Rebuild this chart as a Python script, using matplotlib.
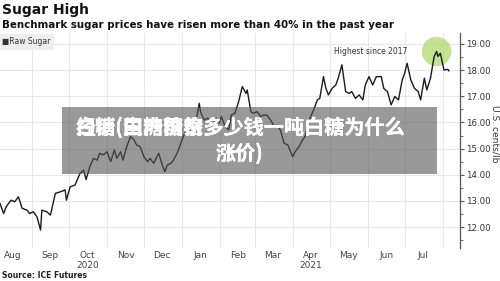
import numpy as np
import pandas as pd
import matplotlib
matplotlib.use("Agg")
import matplotlib.pyplot as plt
import matplotlib.dates as mdates
from matplotlib.ticker import FuncFormatter, MultipleLocator

# Raw sugar futures, U.S. cents/lb
dates = [
    "2020-08-06", "2020-08-09", "2020-08-11", "2020-08-15", "2020-08-18", "2020-08-21",
    "2020-08-24", "2020-08-28", "2020-08-30", "2020-09-02", "2020-09-05", "2020-09-08",
    "2020-09-09", "2020-09-13", "2020-09-16", "2020-09-20", "2020-09-24", "2020-09-28",
    "2020-09-29", "2020-10-02", "2020-10-06", "2020-10-10", "2020-10-13", "2020-10-15",
    "2020-10-18", "2020-10-21", "2020-10-24", "2020-10-26", "2020-10-29", "2020-11-01",
    "2020-11-04", "2020-11-07", "2020-11-09", "2020-11-12", "2020-11-14", "2020-11-17",
    "2020-11-20", "2020-11-23", "2020-11-25", "2020-11-28", "2020-12-01", "2020-12-04",
    "2020-12-06", "2020-12-09", "2020-12-13", "2020-12-16", "2020-12-18", "2020-12-20",
    "2020-12-23", "2020-12-25", "2020-12-28", "2021-01-01", "2021-01-04", "2021-01-08",
    "2021-01-11", "2021-01-13", "2021-01-15", "2021-01-16", "2021-01-19", "2021-01-22",
    "2021-01-26", "2021-01-29", "2021-01-31", "2021-02-02", "2021-02-05", "2021-02-08",
    "2021-02-10", "2021-02-13", "2021-02-16", "2021-02-19", "2021-02-22", "2021-02-23",
    "2021-02-26", "2021-02-28", "2021-03-03", "2021-03-06", "2021-03-08", "2021-03-11",
    "2021-03-14", "2021-03-17", "2021-03-19", "2021-03-22", "2021-03-25", "2021-03-28",
    "2021-04-01", "2021-04-03", "2021-04-06", "2021-04-09", "2021-04-11", "2021-04-15",
    "2021-04-18", "2021-04-21", "2021-04-23", "2021-04-26", "2021-04-28", "2021-04-30",
    "2021-05-03", "2021-05-06", "2021-05-08", "2021-05-11", "2021-05-14", "2021-05-17",
    "2021-05-19", "2021-05-22", "2021-05-25", "2021-05-28", "2021-05-30", "2021-06-02",
    "2021-06-05", "2021-06-08", "2021-06-12", "2021-06-14", "2021-06-17", "2021-06-20",
    "2021-06-23", "2021-06-26", "2021-06-29", "2021-07-01", "2021-07-03", "2021-07-06",
    "2021-07-09", "2021-07-12", "2021-07-14", "2021-07-17", "2021-07-19", "2021-07-22",
    "2021-07-25", "2021-07-27", "2021-07-28", "2021-07-30", "2021-08-02", "2021-08-05",
    "2021-08-06",
]
raw_sugar = [
    12.90, 12.52, 12.78, 13.03, 12.97, 13.16,
    12.72, 12.65, 12.52, 12.59, 12.40, 11.89,
    12.65, 12.59, 12.46, 13.29, 13.35, 13.42,
    13.03, 13.54, 13.61, 14.05, 14.18, 13.82,
    14.31, 14.63, 14.56, 14.82, 14.76, 14.88,
    14.50, 14.95, 14.63, 14.88, 14.56, 15.07,
    15.46, 15.33, 15.14, 15.07, 14.69, 14.50,
    14.63, 14.44, 14.82, 14.37, 14.12, 14.37,
    14.44, 14.56, 14.82, 15.33, 15.71, 15.71,
    15.52, 16.22, 16.73, 16.41, 16.09, 16.16,
    15.84, 16.16, 15.97, 16.22, 15.84, 15.71,
    16.28, 16.35, 16.79, 17.37, 17.11, 17.24,
    16.41, 16.35, 16.41, 16.22, 16.28, 16.28,
    16.09, 15.84, 15.90, 15.71, 15.20, 15.14,
    14.69, 14.88, 15.07, 15.33, 15.46, 16.16,
    16.48, 16.86, 16.92, 17.75, 17.30, 17.05,
    17.30, 17.43, 17.69, 18.20, 17.18, 17.11,
    17.18, 16.92, 17.05, 16.86, 17.43, 17.75,
    17.43, 17.75, 17.75, 17.30, 17.18, 16.67,
    16.99, 16.86, 17.62, 17.88, 18.26, 17.62,
    17.30, 17.18, 16.86, 17.69, 17.24, 17.69,
    18.52, 18.71, 18.52, 18.64, 18.00, 18.03,
    17.97,
]
year_labels = {(2020, 10): "2020", (2021, 4): "2021"}

dates = pd.to_datetime(dates)
raw_sugar = np.array(raw_sugar)

fig = plt.figure(figsize=(5, 2.81), dpi=100)
ax = fig.add_axes([0, 0.117, 0.92, 0.766])

ax.plot(dates, raw_sugar, color="#1a1a1a", lw=1.0, zorder=2)

# highlight of the peak (drawn under the line)
i = raw_sugar.argmax()
ax.scatter([dates[i]], [raw_sugar[i]], s=450, color="#b9dd7f", alpha=0.85,
           edgecolor="none", zorder=1.5)
ax.text(pd.Timestamp("2021-06-03"), 18.72, "Highest since 2017", fontsize=5.5,
        color="#333333", ha="center", va="center")

ax.set_xlim(pd.Timestamp("2020-08-06"), pd.Timestamp("2021-08-15"))
ax.set_ylim(11.2, 19.42)

ax.xaxis.set_major_locator(mdates.MonthLocator())
ax.xaxis.set_major_formatter(plt.NullFormatter())
ax.xaxis.set_minor_locator(mdates.MonthLocator(bymonthday=16))

def month_fmt(x, pos):
    d = mdates.num2date(x)
    s = d.strftime("%b")
    if (d.year, d.month) in year_labels:
        s += "\n" + year_labels[(d.year, d.month)]
    return s

ax.xaxis.set_minor_formatter(FuncFormatter(month_fmt))
ax.tick_params(axis="x", which="both", length=0, pad=2, labelsize=6.5,
               labelcolor="#444444")

ax.yaxis.tick_right()
ax.yaxis.set_label_position("right")
ax.yaxis.set_major_locator(MultipleLocator(1))
ax.yaxis.set_minor_locator(MultipleLocator(0.5))
ax.yaxis.set_major_formatter(FuncFormatter(lambda v, p: f"{v:.2f}"))
ax.tick_params(axis="y", which="major", direction="out", length=3, width=0.8,
               color="#555555", labelsize=6.2, labelcolor="#333333", pad=1)
ax.tick_params(axis="y", which="minor", direction="out", length=2, width=0.6,
               color="#555555")
ax.set_ylabel("U.S. cents/lb", fontsize=6.6, color="#333333", rotation=270,
              va="center", ha="center")
ax.yaxis.set_label_coords(1.076, 0.53)

for s in ["top", "left", "bottom"]:
    ax.spines[s].set_visible(False)
ax.spines["right"].set_color("#555555")
ax.spines["right"].set_linewidth(0.9)

ax.grid(True, which="major", color="#e8e8e8", lw=0.8)
ax.set_axisbelow(True)

# legend box
fig.text(0.004, 1 - 42 / 281, "\u25a0Raw Sugar", fontsize=5.5, color="#333333",
         ha="left", va="center",
         bbox=dict(boxstyle="square,pad=0.5", fc="#eeeeee", ec="none"))

fig.text(0.004, 1 - 10 / 281, "Sugar High", fontsize=10, fontweight="bold",
         color="#111111", ha="left", va="center")
fig.text(0.004, 1 - 25 / 281,
         "Benchmark sugar prices have risen more than 40% in the past year",
         fontsize=7.4, fontweight="bold", color="#111111", ha="left", va="center")
fig.text(0.004, 1 - 276 / 281, "Source: ICE Futures", fontsize=5.5,
         fontweight="bold", color="#222222", ha="left", va="center")

# grey overlay with the (garbled) article title
fig.patches.append(plt.Rectangle((62 / 500, 1 - 174 / 281), 375 / 500, 67 / 281,
                                 transform=fig.transFigure, fc="#555555",
                                 alpha=0.6, ec="none", zorder=5))
overlay_titles = [
    "白糖(白糖价格多少钱一吨白糖为什么\n涨价)",
    "经销(生产国家多少钱一吨白糖为什么\n涨价)",
    "白糖(国内糖价多少钱一吨白糖为什么\n涨价)",
]
for t in overlay_titles:
    fig.text(0.48, 1 - 140 / 281, t, fontsize=14.5, fontweight="bold",
             color="white", ha="center", va="center", linespacing=1.25,
             family=["Noto Sans CJK SC", "DejaVu Sans"], zorder=6)

fig.savefig("out.png", dpi=100)
